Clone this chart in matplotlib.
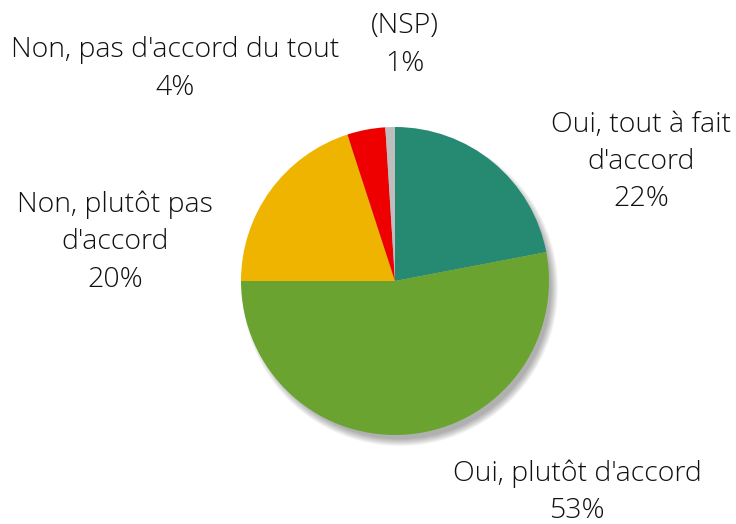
"""Pie chart: Oui / Non agreement shares."""

import matplotlib.pyplot as plt
from matplotlib.patches import Circle

labels = ["Oui, tout à fait\nd'accord", "Oui, plutôt d'accord",
          "Non, plutôt pas\nd'accord", "Non, pas d'accord du tout", "(NSP)"]
shares = [22, 53, 20, 4, 1]
colors = ["#268A72", "#6AA330", "#EEB400", "#EE0000", "#BEBEBE"]

# label centre positions in pixels (x, y from top)
label_pos = [(641, 162), (577, 492), (115, 242), (175, 69), (405, 45)]

W, H = 736, 524
fig = plt.figure(figsize=(W / 100, H / 100), dpi=100)
ax = fig.add_axes([0, 0, 1, 1])

cx, cy, r = 395, 281, 154

# soft shadow under the pie
for i in range(8):
    ax.add_patch(Circle((cx + 5, cy + 7), r + 4 - i, color="#000000",
                        alpha=0.045, lw=0, zorder=1))

# y axis is flipped below, so -90 points up and counterclock turns clockwise
ax.pie(shares, colors=colors, startangle=-90, counterclock=True,
       radius=r, center=(cx, cy), frame=True,
       wedgeprops=dict(linewidth=0, zorder=2))
ax.set_xlim(0, W)
ax.set_ylim(H, 0)
ax.set_aspect("equal")
ax.axis("off")

font = dict(family="Open Sans", fontweight="light", fontsize=20.5, color="#111111")
for (lab, val, (x, y)) in zip(labels, shares, label_pos):
    ax.text(x, y, f"{lab}\n{val}%", ha="center", va="center",
            linespacing=1.45, **font)

fig.savefig("out.png", dpi=100)
